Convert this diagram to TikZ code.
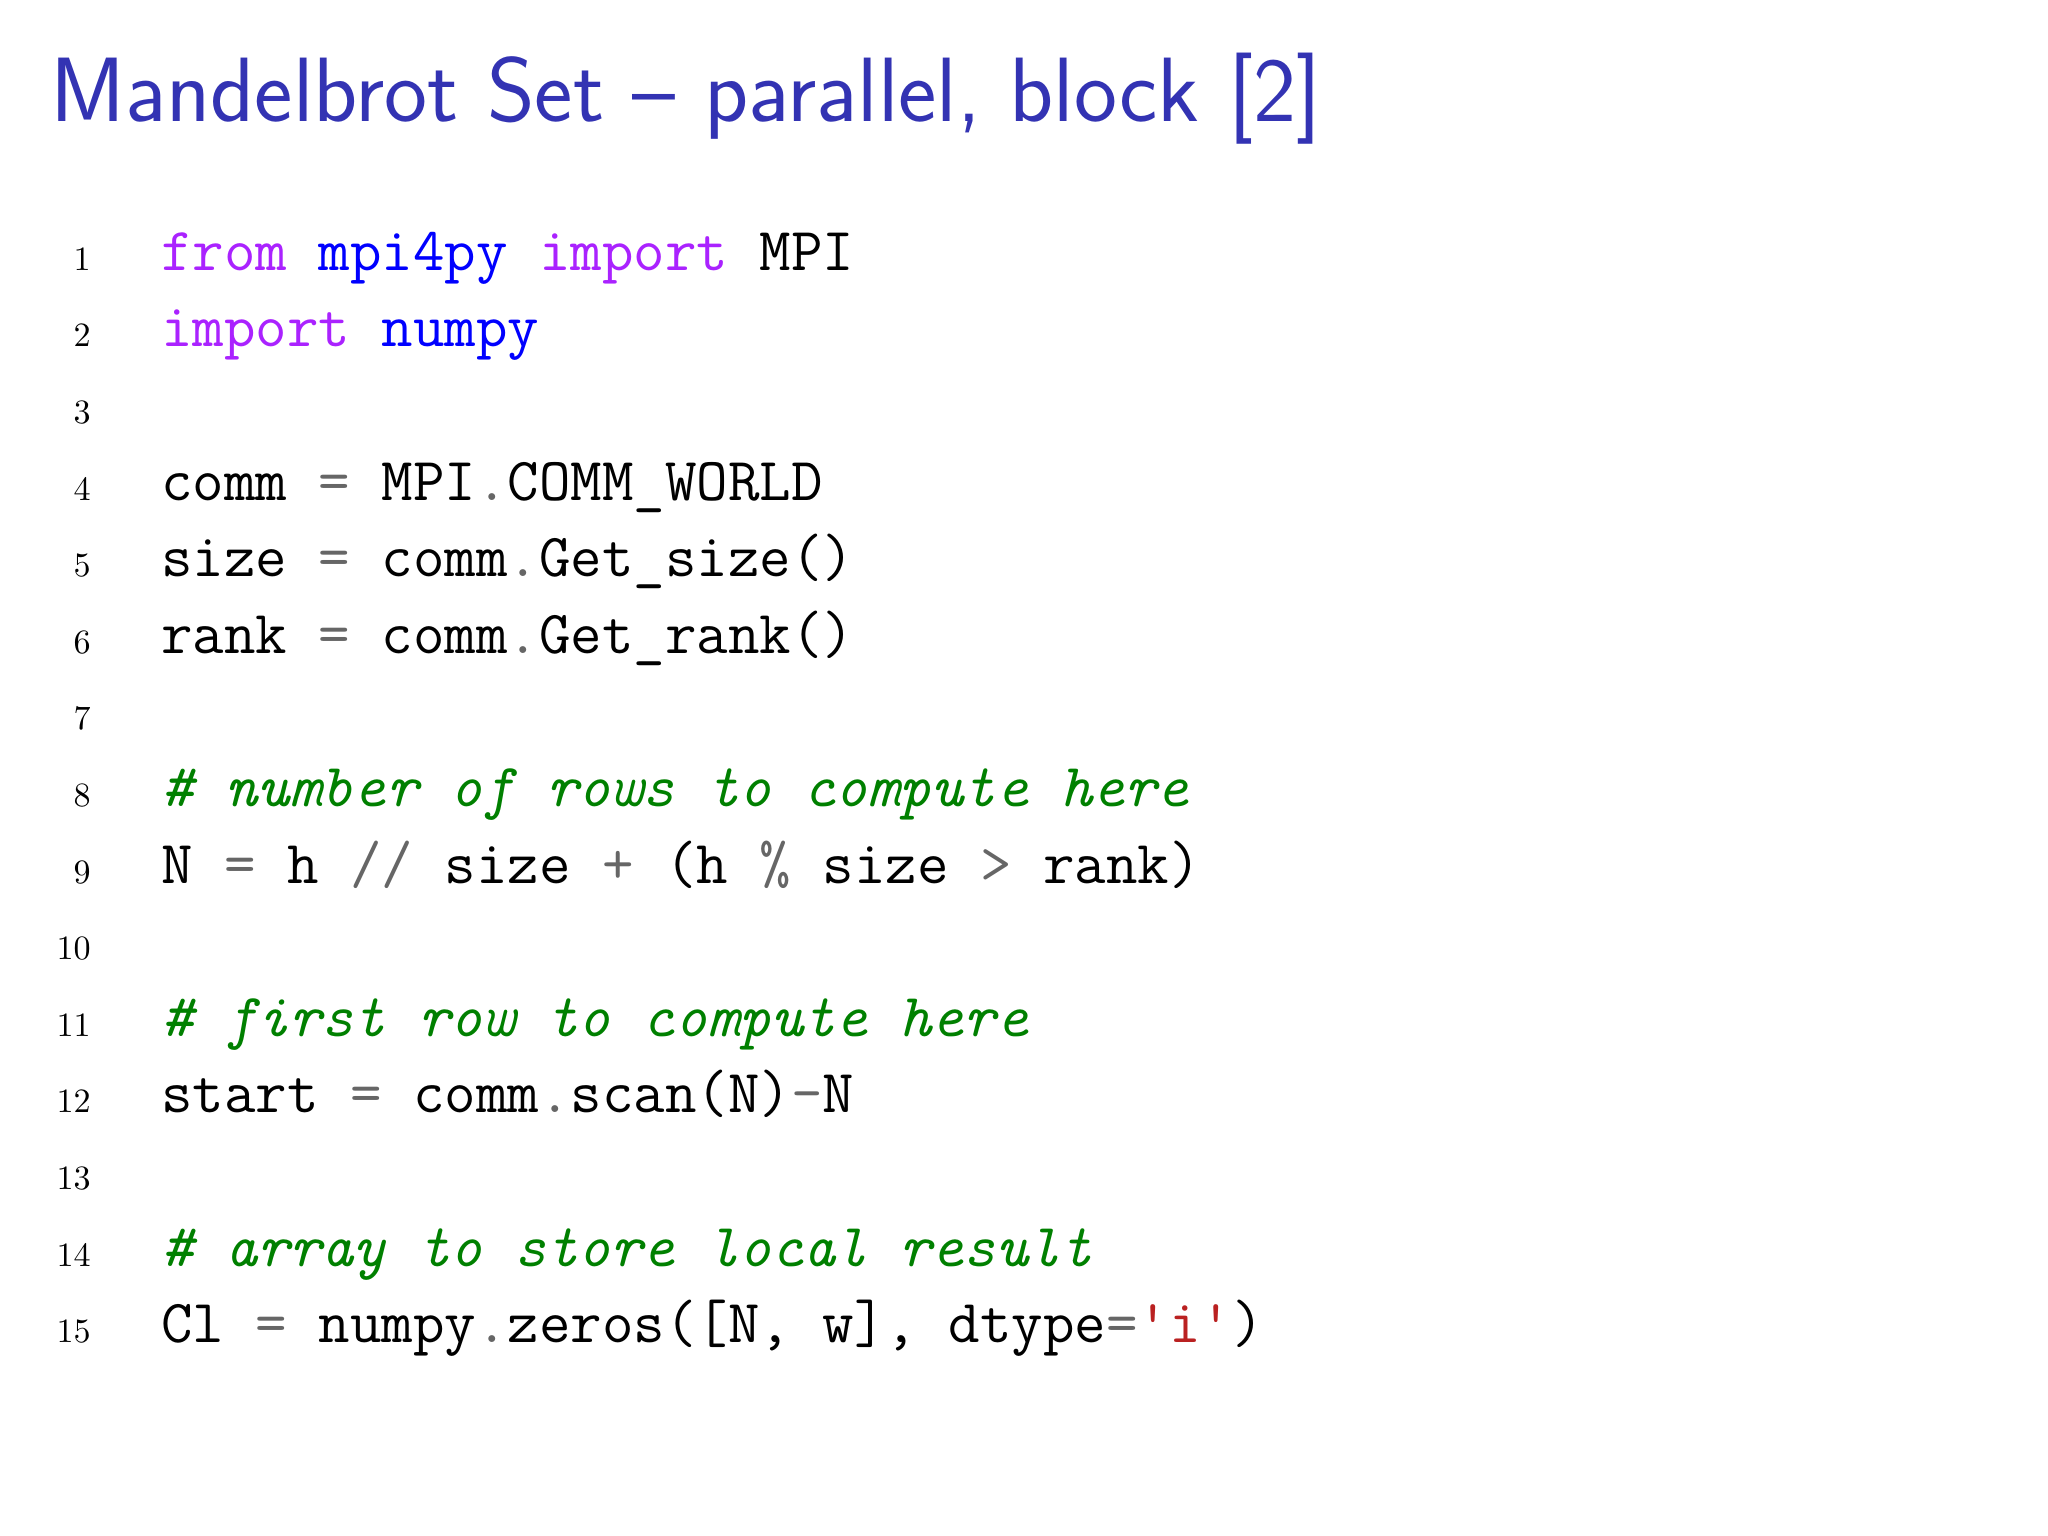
\documentclass[tikz,border=0pt]{standalone}
\definecolor{titleblue}{RGB}{51,51,179}
\definecolor{kw}{RGB}{170,34,255}
\definecolor{nm}{RGB}{0,0,255}
\definecolor{cm}{RGB}{0,128,0}
\definecolor{op}{RGB}{102,102,102}
\definecolor{st}{RGB}{186,33,33}
\newcommand{\K}[1]{\textcolor{kw}{#1}}
\newcommand{\B}[1]{\textcolor{nm}{#1}}
\newcommand{\C}[1]{\textcolor{cm}{\itshape #1}}
\newcommand{\Op}[1]{\textcolor{op}{#1}}
\tikzset{code/.style={anchor=base west,inner sep=0pt,font=\fontsize{17.4}{20}\selectfont\ttfamily},
 lnum/.style={anchor=base east,inner sep=0pt,font=\fontsize{9.7}{11}\selectfont}}
\begin{document}
\begin{tikzpicture}[x=0.01306cm,y=-0.01306cm]
\useasboundingbox (0,0) rectangle (1568,1176);
\node[anchor=base west,inner sep=0pt,text=titleblue,font=\fontsize{26}{30}\selectfont\sffamily] (title) at (38,93) {Mandelbrot Set -- parallel, block [2]};
\foreach \i in {1,...,15}{\node[lnum] (n\i) at (70,{207+58.64*(\i-1)}) {\i};}
\node[code] (l1) at (123,207) {\K{from} \B{mpi4py} \K{import} MPI};
\node[code] (l2) at (123,265.6) {\K{import} \B{numpy}};
\node[code] (l4) at (123,382.9) {comm \Op{=} MPI\Op{.}COMM\_WORLD};
\node[code] (l5) at (123,441.6) {size \Op{=} comm\Op{.}Get\_size()};
\node[code] (l6) at (123,500.2) {rank \Op{=} comm\Op{.}Get\_rank()};
\node[code] (l8) at (123,617.5) {\C{\# number of rows to compute here}};
\node[code] (l9) at (123,676.1) {N \Op{=} h \Op{//} size \Op{+} (h \Op{\%} size \Op{>} rank)};
\node[code] (l11) at (123,793.4) {\C{\# first row to compute here}};
\node[code] (l12) at (123,852) {start \Op{=} comm\Op{.}scan(N)\Op{-}N};
\node[code] (l14) at (123,969.3) {\C{\# array to store local result}};
\node[code] (l15) at (123,1028) {Cl \Op{=} numpy\Op{.}zeros([N, w], dtype\Op{=}\textcolor{st}{'i'})};
\end{tikzpicture}
\end{document}
